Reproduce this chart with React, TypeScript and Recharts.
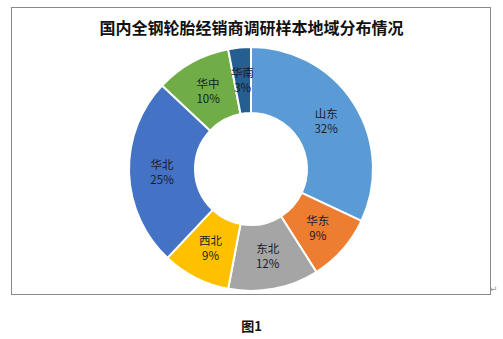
import React from "react";
import { PieChart, Pie, Cell } from "recharts";

const regions = ["山东", "华东", "东北", "西北", "华北", "华中", "华南"];
const shares = [32, 9, 12, 9, 25, 10, 3];
const colors = ["#5B9BD5", "#ED7D31", "#A5A5A5", "#FFC000", "#4472C4", "#70AD47", "#255E91"];
const title = "国内全钢轮胎经销商调研样本地域分布情况";
const caption = "图1";

const data = regions.map((name, i) => ({ name, value: shares[i] }));

const RAD = Math.PI / 180;
const renderLabel = (props: any) => {
  const { cx, cy, midAngle, innerRadius, outerRadius, name, value } = props;
  const r = (innerRadius + outerRadius) / 2;
  const x = cx + r * Math.cos(-midAngle * RAD);
  const y = cy + r * Math.sin(-midAngle * RAD);
  return (
    <text
      x={x}
      y={y}
      textAnchor="middle"
      fill="#1a1a2a"
      fontSize={11.5}
      fontFamily="'Noto Sans CJK SC', sans-serif"
    >
      <tspan x={x} dy={-3}>{name}</tspan>
      <tspan x={x} dy={15}>{value}%</tspan>
    </text>
  );
};

export default function App() {
  return (
    <div style={{ position: "absolute", left: 0, top: 0, width: 503, height: 339, background: "#fff" }}>
      <div
        style={{
          position: "absolute",
          left: 11,
          top: 7,
          width: 480,
          height: 288,
          border: "1px solid #8a8a8a",
          boxSizing: "border-box",
        }}
      />
      <div
        style={{
          position: "absolute",
          left: 0,
          width: 503,
          top: 16,
          textAlign: "center",
          fontFamily: "'Noto Sans CJK SC', sans-serif",
          fontWeight: 700,
          fontSize: 16,
          color: "#111",
          lineHeight: "22px",
        }}
      >
        {title}
      </div>
      <div style={{ position: "absolute", left: 0, top: 0 }}>
        <PieChart width={503} height={339} margin={{ top: 0, right: 0, bottom: 0, left: 0 }}>
          <Pie
            data={data}
            dataKey="value"
            nameKey="name"
            cx={251}
            cy={169}
            innerRadius={56}
            outerRadius={122}
            startAngle={90}
            endAngle={-270}
            stroke="#ffffff"
            strokeWidth={2}
            label={renderLabel}
            labelLine={false}
            isAnimationActive={false}
          >
            {data.map((d, i) => (
              <Cell key={d.name} fill={colors[i]} />
            ))}
          </Pie>
        </PieChart>
      </div>
      <div
        style={{
          position: "absolute",
          left: 0,
          width: 503,
          top: 317,
          textAlign: "center",
          fontFamily: "'Noto Sans CJK SC', sans-serif",
          fontWeight: 700,
          fontSize: 13,
          color: "#111",
          lineHeight: "18px",
        }}
      >
        {caption}
      </div>
      <div
        style={{
          position: "absolute",
          left: 490,
          top: 284,
          fontSize: 9,
          color: "#999",
          fontFamily: "'DejaVu Sans', sans-serif",
        }}
      >
        ↵
      </div>
    </div>
  );
}
